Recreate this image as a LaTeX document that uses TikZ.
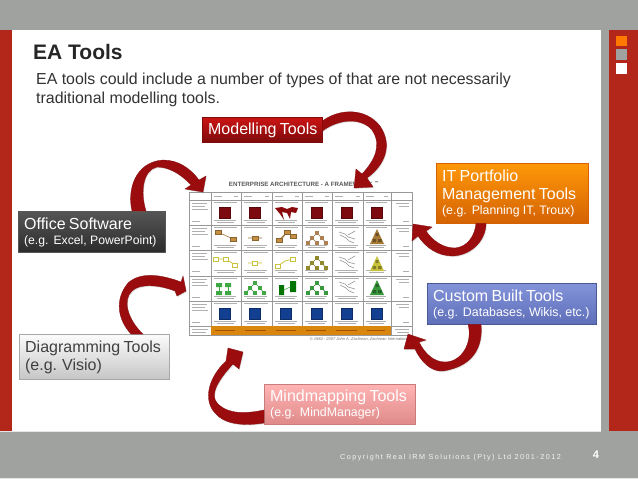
\documentclass[tikz,border=0pt]{standalone}
\usepackage{fontspec}
\setmainfont{Liberation Sans}
\usetikzlibrary{shadows,calc}
\definecolor{pagegrey}{HTML}{A0A2A0}
\definecolor{pagered}{HTML}{B3261A}
\definecolor{arrowred}{HTML}{9A0C0E}
\definecolor{fwline}{HTML}{989898}
\definecolor{fwtext}{HTML}{B0B0B0}
\definecolor{fworange}{HTML}{D9860F}
\definecolor{fwred}{HTML}{7C0A0E}
\definecolor{fwblue}{HTML}{123F90}
\definecolor{fwgreen}{HTML}{3FA845}
\definecolor{fwyellow}{HTML}{C9C23C}
\definecolor{fwbrown}{HTML}{C48F42}
\definecolor{modtop}{HTML}{CC1414}\definecolor{modbot}{HTML}{7E0A0A}
\definecolor{offtop}{HTML}{565656}\definecolor{offbot}{HTML}{2C2C2C}
\definecolor{diatop}{HTML}{FCFCFC}\definecolor{diabot}{HTML}{C6C6C6}
\definecolor{mintop}{HTML}{FFB4B4}\definecolor{minbot}{HTML}{E08A8A}
\definecolor{ittop}{HTML}{FF9808}\definecolor{itbot}{HTML}{D46204}
\definecolor{custop}{HTML}{8494DA}\definecolor{cusbot}{HTML}{5E6EB8}
\tikzset{
  tool/.style={anchor=north west,inner ysep=0pt,inner xsep=6pt,align=left,text=white,line width=.3pt,
    drop shadow={shadow xshift=.8pt,shadow yshift=-1.2pt,opacity=.45}},
  curved/.style={fill=arrowred,draw=arrowred!85!black,line width=.3pt,
    drop shadow={shadow xshift=.8pt,shadow yshift=-1pt,opacity=.25}},
  fwrule/.style={draw=fwline,line width=.7pt},
  fwtxt/.style={draw=fwtext,line width=.9pt},
  fwbox/.style={fill=#1,draw=#1!70!black,line width=.3pt},
}
\newcommand\bline[1]{{\fontsize{16}{19}\selectfont\rule[-4.5pt]{0pt}{18pt}#1}}
\newcommand\sline[2][12.2]{{\fontsize{#1}{14}\selectfont\rule[-3.5pt]{0pt}{14pt}#2}}
\newcommand\lines[1]{\begin{tabular}{@{}l@{}}#1\end{tabular}}
\newcommand\fwtree[3]{%
  \draw[#3!80!black,line width=.6pt] (#1-9,#2+5)--(#1-5,#2)--(#1,#2-5)--(#1+5,#2)--(#1+9,#2+5) (#1-5,#2)--(#1,#2+5);
  \foreach \p/\q in {0/-5,-5/0,5/0,-9/5,0/5,9/5}{\fill[#3] (#1+\p-1.9,#2+\q-1.6) rectangle (#1+\p+1.9,#2+\q+1.6);}}
\newcommand\fwpile[3]{%
  \fill[#3] (#1,#2-8)--(#1+7,#2+7)--(#1-7,#2+7)--cycle;
  \fill[#3!65!black] (#1-1.5,#2-4) rectangle (#1+1.5,#2-1) (#1-4.5,#2+2) rectangle (#1-1,#2+5) (#1+1,#2+2) rectangle (#1+4.5,#2+5);}
\newcommand\fwsquig[2]{%
  \draw[gray!85,line width=.6pt] (#1-8,#2-6)--(#1-2,#2-4)--(#1+1,#2-1)--(#1+8,#2+1) (#1-7,#2-3)--(#1-1,#2)--(#1+2,#2+3)--(#1+7,#2+5) (#1+8,#2-7)--(#1+1,#2-3);}
\begin{document}
\begin{tikzpicture}[x=1pt,y=-1pt]
\useasboundingbox (0,0) rectangle (638,479);
% page
\fill[pagegrey] (0,0) rectangle (638,479);
\fill[white] (12,30) rectangle (601,431);
\fill[pagered] (0,30) rectangle (12,431);
\fill[pagered] (609,30) rectangle (638,431);
\fill[orange!95!red] (616,36) rectangle (627,46);
\fill[pagegrey] (616,49) rectangle (627,60);
\fill[white] (616,63) rectangle (627,74);
\fill[gray!20] (0,431) rectangle (601,432);
\fill[gray!20] (0,478) rectangle (638,479);
% heading
\node[anchor=west,inner sep=0pt,font=\bfseries\fontsize{21}{24}\selectfont,text=black!85] (title) at (33,52) {EA Tools};
\node[anchor=north west,inner sep=0pt,align=left,text=black!80,font=\fontsize{15.9}{19.5}\selectfont] (intro) at (36,72.5)
  {EA tools could include a number of types of that are not necessarily\\traditional modelling tools.};
% framework table
\node[anchor=center,inner sep=0pt,font=\bfseries\fontsize{6.2}{7}\selectfont,text=black!65] (fwtitle) at (304,184) {ENTERPRISE ARCHITECTURE - A FRAMEWORK \textsuperscript{™}};
\node[anchor=north west,inner sep=0pt,minimum width=223pt,minimum height=143pt,fill=white,draw=fwline,line width=.7pt] (frame) at (189,192) {};
\foreach \x in {211,241,272,302,332,363,391}{\draw[fwrule] (\x,192)--(\x,335);}
\foreach \y in {200,225,250,276,301,326}{\draw[fwrule] (189,\y)--(412,\y);}
\fill[fworange] (211,326) rectangle (391,335);
\foreach \l/\r in {211/241,241/272,272/302,302/332,332/363,363/391}{
  \draw[fwtxt] (\l+3,196)--(\l+11,196) (\r-7,196)--(\r-3,196);
  \foreach \t in {200,225,250,276,301}{
    \draw[fwtxt] (\l+3,\t+2.5)--(\r-4,\t+2.5) (\l+3,\t+20)--(\r-5,\t+20) (\l+6,\t+22.5)--(\r-7,\t+22.5);
  }
  \draw[orange!65!black,line width=.5pt] (\l+4,330.5)--(\r-6,330.5);
}
\foreach \t in {200,225,250,276,301}{
  \draw[fwtxt] (192,\t+3)--(207,\t+3) (192,\t+6)--(205,\t+6) (192,\t+9)--(208,\t+9) (192,\t+21)--(200,\t+21);
  \draw[fwtxt] (396,\t+3)--(409,\t+3) (399,\t+6)--(409,\t+6) (403,\t+21)--(409,\t+21);
}
\draw[fwtxt] (192,329)--(208,329) (192,332)--(206,332) (395,329)--(409,329) (397,332)--(409,332);
% row 1
\foreach \c in {225,255,317,347,377}{\fill[fwbox=fwred] (\c-5.5,207) rectangle (\c+5.5,218);}
\fill[fwred!90!red] (275,208)--(282,207)--(287,209)--(292,207)--(298,208)--(296,213)--(291,212)--(290,219)--(287,213)--(282,212)--(284,220)--(280,214)--cycle;
% row 2
\draw[fwbrown!80!black,line width=.6pt] (218,232)--(233,239) (248,238)--(262,238) (279,240)--(287,232)--(293,236) (287,232)--(281,240);
\foreach \a/\b in {218/232,233/239,255/238,279/240,287/232,293/236}{\fill[fwbox=fwbrown] (\a-3,\b-2) rectangle (\a+3,\b+2);}
\fwtree{317}{238}{brown!70!gray}
\fwsquig{347}{238}
\fwpile{377}{237}{fwbrown!85!black}
% row 3
\draw[fwyellow,line width=.8pt] (216,259)--(226,259)--(235,265) (248,263)--(262,263) (278,266)--(285,261)--(293,259);
\foreach \a/\b in {216/259,226/259,235/265,255/263,278/266,293/259}{\draw[fill=white,draw=fwyellow,line width=1pt] (\a-2.5,\b-2) rectangle (\a+2.5,\b+2);}
\fwtree{317}{263}{olive!70!gray}
\fwsquig{347}{263}
\fwpile{377}{264}{fwyellow}
% row 4
\foreach \a in {219,228}{\fill[fwgreen] (\a-3,283) rectangle (\a+3,287) (\a-3,291) rectangle (\a+3,295);\draw[fwgreen,line width=.8pt] (\a,287)--(\a,291);}
\fwtree{255}{288}{fwgreen}
\fill[green!45!black] (279,285) rectangle (284,295) (290,281) rectangle (296,292);
\draw[fwgreen,line width=.6pt] (284,290)--(290,287);
\fwtree{317}{288}{fwgreen!90!black}
\fwsquig{347}{288}
\fwpile{377}{288}{fwgreen!90!black}
% row 5
\foreach \c in {225,255,286,317,347,377}{\fill[fwbox=fwblue] (\c-5.5,308) rectangle (\c+5.5,319);}
\node[anchor=east,inner sep=0pt,font=\itshape\fontsize{4}{5}\selectfont,text=black!55] (fwcopy) at (410,339) {© 1984 - 2007 John A. Zachman, Zachman International};
% tool boxes
\node[tool,text width=108pt,minimum height=25pt,top color=modtop,bottom color=modbot,draw=modbot] (modelling) at (202,117) {\lines{\bline{Modelling Tools}}};
\node[tool,text width=135pt,minimum height=41pt,top color=offtop,bottom color=offbot,draw=offtop] (office) at (18,211)
  {\lines{\bline{Office Software}\\\sline{(e.g. Excel, PowerPoint)}}};
\node[tool,text width=138pt,minimum height=45pt,top color=diatop,bottom color=diabot,draw=diabot!85!black,text=black!75] (diagramming) at (19,334)
  {\lines{\bline{Diagramming Tools}\\[1pt]\bline{(e.g. Visio)}}};
\node[tool,text width=139pt,minimum height=40pt,top color=mintop,bottom color=minbot,draw=minbot!90!black] (mindmapping) at (264,384)
  {\lines{\bline{Mindmapping Tools}\\\sline[12.4]{(e.g. MindManager)}}};
\node[tool,text width=140pt,minimum height=60pt,top color=ittop,bottom color=itbot,draw=itbot] (portfolio) at (436,163)
  {\lines{\bline{IT Portfolio}\\[1pt]\bline{Management Tools}\\[1pt]\sline[12.3]{(e.g. Planning IT, Troux)}}};
\node[tool,text width=157pt,minimum height=41pt,top color=custop,bottom color=cusbot,draw=cusbot!80!black] (custom) at (427,283)
  {\lines{\bline{Custom Built Tools}\\\sline[12.4]{(e.g. Databases, Wikis, etc.)}}};
% free ends of the curved arrows
\coordinate (mA) at ($(modelling.north east)+(0,4)$);
\coordinate (mB) at ($(modelling.north east)+(0,14)$);
\coordinate (oA) at ($(office.north west)+(114,0)$);
\coordinate (oB) at ($(office.north west)+(128,0)$);
\coordinate (dA) at ($(diagramming.north west)+(112,0)$);
\coordinate (dB) at ($(diagramming.north west)+(124,0)$);
\coordinate (nA) at ($(mindmapping.north west)+(0,39)$);
\coordinate (nB) at ($(mindmapping.north west)+(0,26)$);
\coordinate (pA) at ($(portfolio.south west)+(50,0)$);
\coordinate (pB) at ($(portfolio.south west)+(40,0)$);
\coordinate (cA) at ($(custom.south west)+(54,0)$);
\coordinate (cB) at ($(custom.south west)+(41,0)$);
% curved arrows
\path[curved] (mA) .. controls (340,108) and (366,108) .. (380,126) .. controls (393,145) and (385,165) .. (367,178)
  -- (373,187) -- (354,188) -- (356,169) -- (362,174) .. controls (375,160) and (382,145) .. (372,130) .. controls (362,118) and (340,118) .. (mB) -- cycle;
\path[curved] (oA) .. controls (127,190) and (135,162) .. (163,160) .. controls (178,160) and (190,168) .. (199,180)
  -- (206,176) -- (203,192) -- (185,189) -- (191,185) .. controls (180,173) and (168,167) .. (157,167) .. controls (143,170) and (140,192) .. (oB) -- cycle;
\path[curved] (dA) .. controls (118,320) and (114,300) .. (128,283) .. controls (140,272) and (160,274) .. (181,282)
  -- (183,276) -- (186,291) -- (177,296) -- (175,291) .. controls (160,285) and (140,283) .. (132,291) .. controls (122,300) and (128,320) .. (dB) -- cycle;
\path[curved] (nA) .. controls (245,426) and (225,425) .. (215,413) .. controls (203,400) and (208,378) .. (226,361)
  -- (228,348) -- (243,352) -- (239,369) -- (233,364) .. controls (220,378) and (208,395) .. (218,404) .. controls (228,414) and (245,414) .. (nB) -- cycle;
\path[curved] (pA) .. controls (486,240) and (472,255) .. (453,256) .. controls (438,256) and (426,248) .. (418,236)
  -- (412,241) -- (413,224) -- (432,227) -- (426,231) .. controls (433,241) and (443,248) .. (455,248) .. controls (468,247) and (475,235) .. (pB) -- cycle;
\path[curved] (cA) .. controls (483,345) and (475,366) .. (443,371) .. controls (430,372) and (420,360) .. (415,349)
  -- (404,349) -- (408,334) -- (426,340) -- (419,342) .. controls (425,354) and (434,362) .. (445,362) .. controls (462,362) and (473,342) .. (cB) -- cycle;
% footer
\node[anchor=west,inner sep=0pt,text=white!90!gray] (copyright) at (340,458)
  {\addfontfeature{LetterSpace=20}\fontsize{7.25}{8}\selectfont Copyright Real IRM Solutions (Pty) Ltd 2001-2012};
\node[anchor=center,inner sep=0pt,text=white,font=\bfseries\fontsize{11}{12}\selectfont] (pageno) at (596,455) {4};
\end{tikzpicture}
\end{document}
